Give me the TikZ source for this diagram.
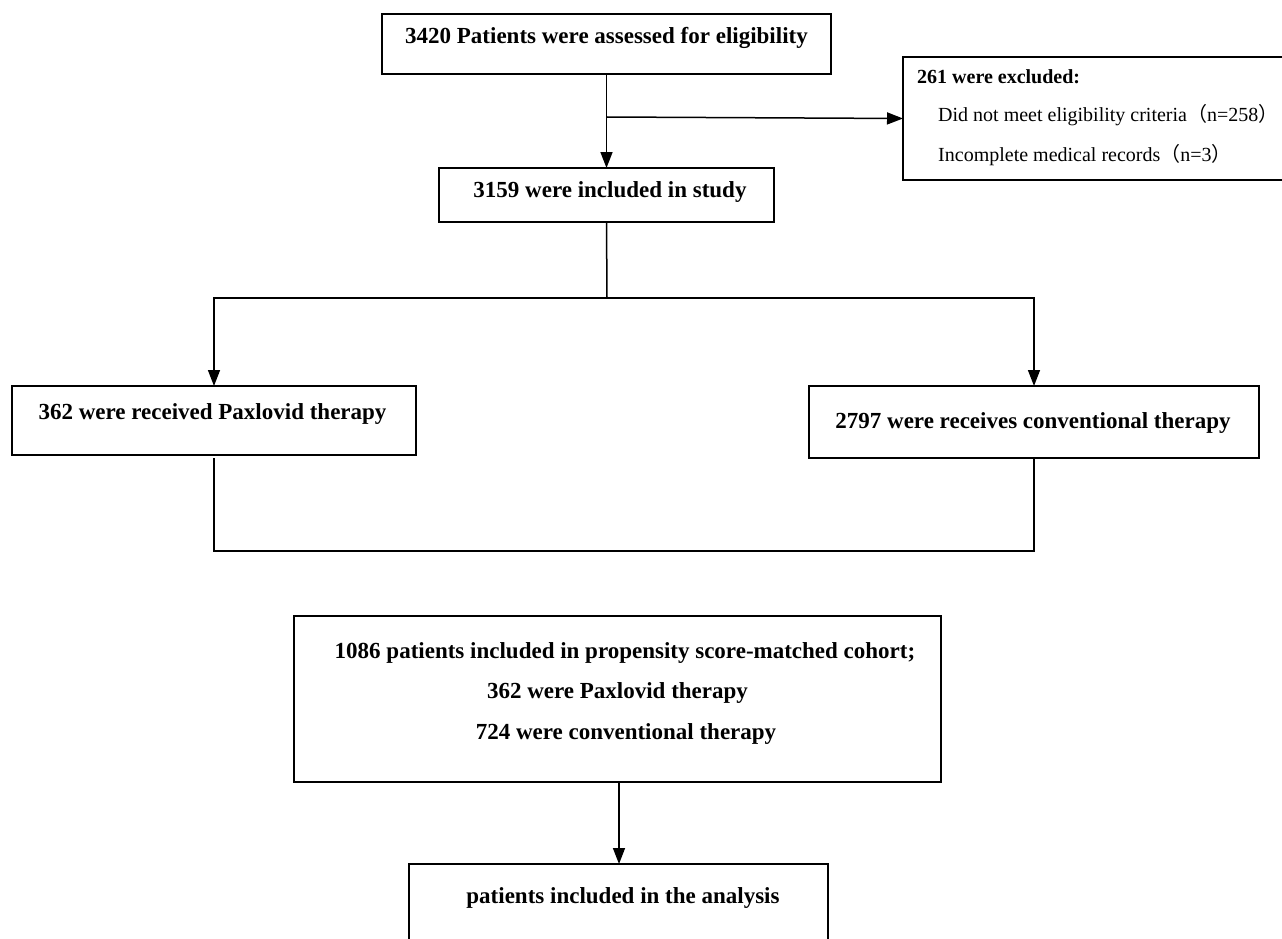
\documentclass[tikz,border=0pt]{standalone}
\usepackage{fontspec}
\setmainfont{Liberation Serif}
\newfontfamily\cjk{Noto Sans CJK SC}
\usetikzlibrary{arrows.meta}
\begin{document}
\begin{tikzpicture}[x=1pt,y=-1pt,
  box/.style={draw=black, line width=2pt, rectangle, inner sep=0pt, outer sep=0pt},
  lbl/.style={inner sep=0pt, font=\fontsize{23}{27}\selectfont\bfseries},
  small/.style={inner sep=0pt, anchor=west, font=\fontsize{20}{24}\selectfont},
  conn/.style={line width=1.5pt, draw=black},
  arr/.style={conn, -{Triangle[length=16pt,width=12pt]}}]
\clip (0,0) rectangle (1282,939);
\useasboundingbox (0,0) rectangle (1282,939);
% boxes
\node[box, minimum width=449pt, minimum height=60pt] (A) at (606.5,44) {};
\node[box, minimum width=387pt, minimum height=123pt] (X) at (1096.5,118.5) {};
\node[box, minimum width=335pt, minimum height=54pt] (B) at (606.5,195) {};
\node[box, minimum width=404pt, minimum height=69pt] (L) at (214,420.5) {};
\node[box, minimum width=450pt, minimum height=72pt] (R) at (1034,422) {};
\node[box, minimum width=647pt, minimum height=166pt] (D) at (617.5,699) {};
\node[box, minimum width=419pt, minimum height=96pt] (E) at (618.5,912) {};
% texts
\node[lbl] (tA) at (606.5,38) {3420 Patients were assessed for eligibility};
\node[small, font=\fontsize{20}{24}\selectfont\bfseries] (tX1) at (917,77) {261 were excluded:};
\node[small] (tX2) at (938,115) {Did not meet eligibility criteria{\cjk （}n=258{\cjk ）}};
\node[small] (tX3) at (938,155) {Incomplete medical records{\cjk （}n=3{\cjk ）}};
\node[lbl] (tB) at (610,192) {3159 were included in study};
\node[lbl] (tL) at (212.5,414) {362 were received Paxlovid therapy};
\node[lbl] (tR) at (1033,423) {2797 were receives conventional therapy};
\node[lbl] (tD1) at (625,653) {1086 patients included in propensity score-matched cohort;};
\node[lbl] (tD2) at (617.5,693) {362 were Paxlovid therapy};
\node[lbl] (tD3) at (626,734) {724 were conventional therapy};
\node[lbl] (tE) at (623,898) {patients included in the analysis};
% connectors
\coordinate (j1) at (607,117);
\coordinate (j2) at (607,298);
\coordinate (j3) at (1034,551);
\draw[arr] (A.south) -- (B.north);
\draw[arr] (j1) -- (X.west);
\draw[conn] (B.south) -- (j2);
\draw[arr] (j2) -| (L.north);
\draw[arr] (j2) -| (R.north);
\draw[conn] ([yshift=-3pt]L.south) |- (j3) -- ([yshift=-1pt]R.south);
\draw[arr] ([xshift=1.5pt]D.south) -- ([xshift=0.5pt]E.north);
\end{tikzpicture}
\end{document}
